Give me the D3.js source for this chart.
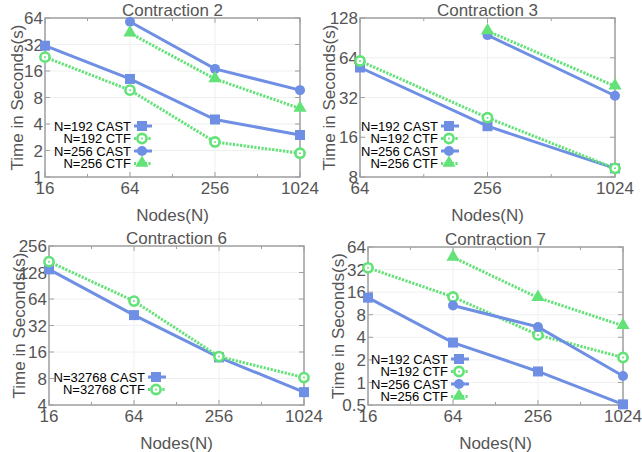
<!DOCTYPE html>
<html>
<head>
<meta charset="utf-8">
<script src="https://cdn.jsdelivr.net/npm/d3@7"></script>
<style>
  body { margin: 0; background: #fff; }
  svg { font-family: "Liberation Sans", Arial, sans-serif; }
</style>
</head>
<body>
<div id="chart"></div>
<script>
// ---- data ----
const nodes2 = [16, 64, 256, 1024];
const c2_192_cast = [31, 13, 4.5, 3.0];
const c2_192_ctf = [23, 9.7, 2.5, 1.86];
const c2_256_cast = [null, 58, 16.9, 9.7];
const c2_256_ctf = [null, 43, 13, 6.0];
const yticks2 = [1, 2, 4, 8, 16, 32, 64];

const nodes3 = [64, 256, 1024];
const c3_192_cast = [54, 19.4, 9.3];
const c3_192_ctf = [60.5, 22.5, 9.3];
const c3_256_cast = [null, 95, 33];
const c3_256_ctf = [null, 102, 39];
const yticks3 = [8, 16, 32, 64, 128];

const nodes6 = [16, 64, 256, 1024];
const c6_32768_cast = [139, 42, 13.9, 5.6];
const c6_32768_ctf = [170, 60.6, 14.2, 8.2];
const yticks6 = [4, 8, 16, 32, 64, 128, 256];

const nodes7 = [16, 64, 256, 1024];
const c7_192_cast = [13.5, 3.4, 1.4, 0.51];
const c7_192_ctf = [33.8, 13.8, 4.3, 2.15];
const c7_256_cast = [null, 10.6, 5.5, 1.22];
const c7_256_ctf = [null, 46.6, 13.5, 5.7];
const yticks7 = [0.5, 1, 2, 4, 8, 16, 32, 64];

const BLUE = "#6e8fe4";
const GREEN = "#62e277";
const AXIS = "#a0a0a0";
const TXT = "#555";

const svg = d3.select("#chart").append("svg")
    .attr("width", 642)
    .attr("height", 452);

const panels = [
    { title: "Contraction 2", x0: 45, x1: 300, y0: 18, y1: 177, nodes: nodes2, yticks: yticks2,
      ylabX: 17, legX: 131, legY: 126,
      series: [
        { name: "N=192 CAST", vals: c2_192_cast, type: "cast", mark: "square" },
        { name: "N=192 CTF", vals: c2_192_ctf, type: "ctf", mark: "ring" },
        { name: "N=256 CAST", vals: c2_256_cast, type: "cast", mark: "dot" },
        { name: "N=256 CTF", vals: c2_256_ctf, type: "ctf", mark: "tri" }
      ] },
    { title: "Contraction 3", x0: 360, x1: 615, y0: 18, y1: 177, nodes: nodes3, yticks: yticks3,
      ylabX: 329, legX: 438, legY: 126,
      series: [
        { name: "N=192 CAST", vals: c3_192_cast, type: "cast", mark: "square" },
        { name: "N=192 CTF", vals: c3_192_ctf, type: "ctf", mark: "ring" },
        { name: "N=256 CAST", vals: c3_256_cast, type: "cast", mark: "dot" },
        { name: "N=256 CTF", vals: c3_256_ctf, type: "ctf", mark: "tri" }
      ] },
    { title: "Contraction 6", x0: 49, x1: 304, y0: 246, y1: 405, nodes: nodes6, yticks: yticks6,
      ylabX: 19, legX: 145, legY: 377,
      series: [
        { name: "N=32768 CAST", vals: c6_32768_cast, type: "cast", mark: "square" },
        { name: "N=32768 CTF", vals: c6_32768_ctf, type: "ctf", mark: "ring" }
      ] },
    { title: "Contraction 7", x0: 368, x1: 623, y0: 247, y1: 405, nodes: nodes7, yticks: yticks7,
      ylabX: 338, legX: 448, legY: 359,
      series: [
        { name: "N=192 CAST", vals: c7_192_cast, type: "cast", mark: "square" },
        { name: "N=192 CTF", vals: c7_192_ctf, type: "ctf", mark: "ring" },
        { name: "N=256 CAST", vals: c7_256_cast, type: "cast", mark: "dot" },
        { name: "N=256 CTF", vals: c7_256_ctf, type: "ctf", mark: "tri" }
      ] }
];

function drawMarker(g, mark, x, y) {
    if (mark === "square") {
        g.append("rect").attr("x", x - 5).attr("y", y - 5).attr("width", 10).attr("height", 10)
            .attr("fill", BLUE);
    } else if (mark === "dot") {
        g.append("circle").attr("cx", x).attr("cy", y).attr("r", 5).attr("fill", BLUE);
    } else if (mark === "ring") {
        g.append("circle").attr("cx", x).attr("cy", y).attr("r", 4.6)
            .attr("fill", "#fff").attr("stroke", GREEN).attr("stroke-width", 2.6);
        g.append("circle").attr("cx", x).attr("cy", y).attr("r", 1).attr("fill", GREEN);
    } else if (mark === "tri") {
        g.append("path")
            .attr("d", d3.symbol().type(d3.symbolTriangle).size(75)())
            .attr("transform", "translate(" + x + "," + (y - 0.5) + ")")
            .attr("fill", GREEN);
    }
}

function lineStyle(sel, type) {
    sel.attr("fill", "none")
        .attr("stroke", type === "cast" ? BLUE : GREEN)
        .attr("stroke-width", type === "cast" ? 3 : 3)
        .attr("stroke-dasharray", type === "cast" ? null : "2.2,1.4");
}

panels.forEach(function(p) {
    const xmin = p.nodes[0], xmax = p.nodes[p.nodes.length - 1];
    const x = d3.scaleLog().base(2).domain([xmin, xmax]).range([p.x0, p.x1]);
    const y = d3.scaleLog().base(2).domain([p.yticks[0], p.yticks[p.yticks.length - 1]]).range([p.y1, p.y0]);
    const g = svg.append("g");

    // light grid at the major ticks
    g.selectAll(".gx").data(p.nodes).enter().append("line")
        .attr("x1", d => x(d)).attr("x2", d => x(d)).attr("y1", p.y0).attr("y2", p.y1)
        .attr("stroke", "#f0f0f0").attr("stroke-width", 1);
    g.selectAll(".gy").data(p.yticks).enter().append("line")
        .attr("x1", p.x0).attr("x2", p.x1).attr("y1", d => y(d)).attr("y2", d => y(d))
        .attr("stroke", "#f0f0f0").attr("stroke-width", 1);

    // minor x ticks halfway (log) between the majors
    const minors = [];
    for (let i = 0; i < p.nodes.length - 1; i++) minors.push(p.nodes[i] * 2);
    [p.y0, p.y1].forEach(function(edge, k) {
        const dir = k === 0 ? 1 : -1;
        g.selectAll(null).data(minors).enter().append("line")
            .attr("x1", d => x(d)).attr("x2", d => x(d))
            .attr("y1", edge).attr("y2", edge + dir * 3)
            .attr("stroke", AXIS).attr("stroke-width", 1);
        g.selectAll(null).data(p.nodes).enter().append("line")
            .attr("x1", d => x(d)).attr("x2", d => x(d))
            .attr("y1", edge).attr("y2", edge + dir * 5)
            .attr("stroke", AXIS).attr("stroke-width", 1);
    });
    [p.x0, p.x1].forEach(function(edge, k) {
        const dir = k === 0 ? 1 : -1;
        g.selectAll(null).data(p.yticks).enter().append("line")
            .attr("x1", edge).attr("x2", edge + dir * 5)
            .attr("y1", d => y(d)).attr("y2", d => y(d))
            .attr("stroke", AXIS).attr("stroke-width", 1);
    });

    // border
    g.append("rect")
        .attr("x", p.x0).attr("y", p.y0)
        .attr("width", p.x1 - p.x0).attr("height", p.y1 - p.y0)
        .attr("fill", "none").attr("stroke", AXIS).attr("stroke-width", 1.5);

    // tick labels
    g.selectAll(null).data(p.yticks).enter().append("text")
        .attr("x", p.x0 - 2).attr("y", d => y(d)).attr("dy", "0.36em")
        .attr("text-anchor", "end").attr("font-size", 17).attr("fill", TXT)
        .text(d => d);
    g.selectAll(null).data(p.nodes).enter().append("text")
        .attr("x", d => x(d)).attr("y", p.y1 + 17)
        .attr("text-anchor", "middle").attr("font-size", 17).attr("fill", TXT)
        .text(d => d);

    // titles
    g.append("text")
        .attr("x", (p.x0 + p.x1) / 2).attr("y", p.y0 - 2)
        .attr("text-anchor", "middle").attr("font-size", 17).attr("fill", TXT)
        .text(p.title);
    g.append("text")
        .attr("x", (p.x0 + p.x1) / 2).attr("y", p.y1 + 44)
        .attr("text-anchor", "middle").attr("font-size", 17).attr("fill", TXT)
        .text("Nodes(N)");
    g.append("text")
        .attr("transform", "translate(" + (p.ylabX + 6) + "," + ((p.y0 + p.y1) / 2) + ") rotate(-90)")
        .attr("text-anchor", "middle").attr("font-size", 17).attr("fill", TXT)
        .text("Time in Seconds(s)");

    // series
    const line = d3.line()
        .defined(d => d.v != null)
        .x(d => x(d.n)).y(d => y(d.v));
    p.series.forEach(function(s) {
        const pts = p.nodes.map((n, i) => ({ n: n, v: s.vals[i] }));
        g.append("path").datum(pts).attr("d", line).call(lineStyle, s.type);
        pts.filter(d => d.v != null).forEach(d => drawMarker(g, s.mark, x(d.n), y(d.v)));
    });

    // legend
    p.series.forEach(function(s, i) {
        const ly = p.legY + i * 12.5;
        g.append("text")
            .attr("x", p.legX).attr("y", ly).attr("dy", "0.36em")
            .attr("text-anchor", "end").attr("font-size", 13).attr("fill", "#000")
            .text(s.name);
        g.append("line")
            .attr("x1", p.legX + 3).attr("x2", p.legX + 21).attr("y1", ly).attr("y2", ly)
            .call(lineStyle, s.type);
        drawMarker(g, s.mark, p.legX + 11, ly);
    });
});
</script>
</body>
</html>
